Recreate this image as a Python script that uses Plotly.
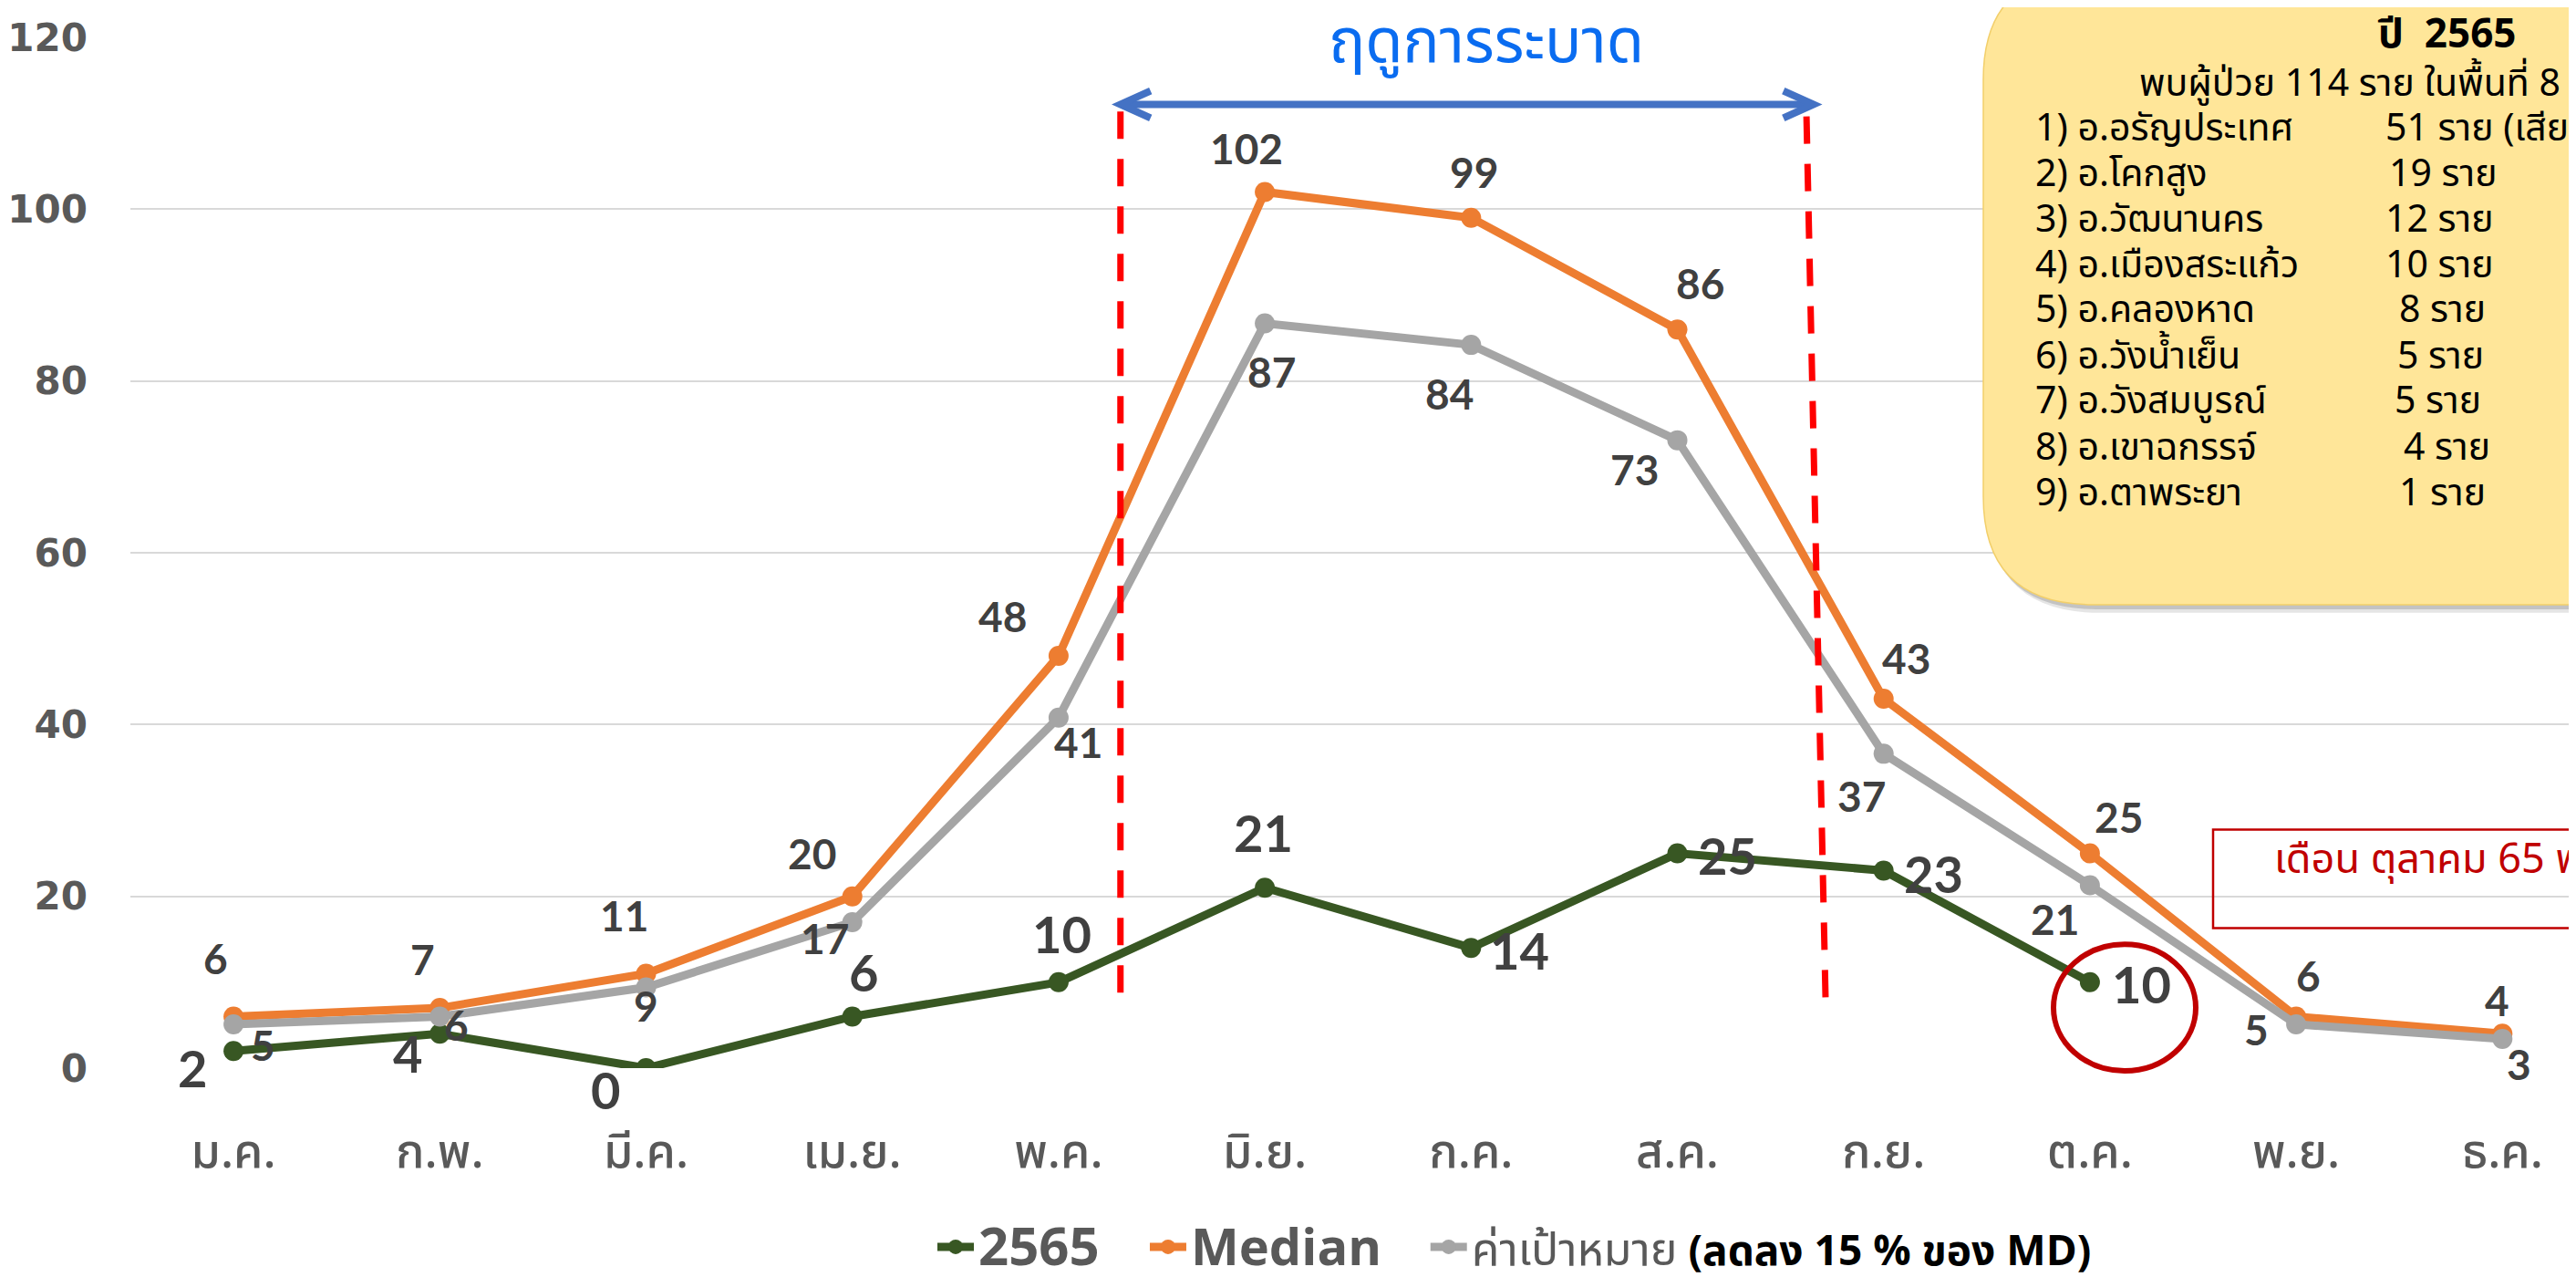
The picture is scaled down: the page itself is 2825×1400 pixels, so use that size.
import plotly.graph_objects as go

# ---------------- data ----------------
months = ["ม.ค.", "ก.พ.", "มี.ค.", "เม.ย.", "พ.ค.", "มิ.ย.", "ก.ค.", "ส.ค.", "ก.ย.", "ต.ค.", "พ.ย.", "ธ.ค."]
cases_2565 = [2, 4, 0, 6, 10, 21, 14, 25, 23, 10]
median = [6, 7, 11, 20, 48, 102, 99, 86, 43, 25, 6, 4]
target = [5.1, 6.0, 9.4, 17.0, 40.8, 86.7, 84.2, 73.1, 36.6, 21.3, 5.1, 3.4]

series_names = ["2565", "Median", "ค่าเป้าหมาย"]
target_note = "(ลดลง 15 % ของ MD)"

season_label = "ฤดูการระบาด"
box_title = "ปี  2565"
box_sub = "พบผู้ป่วย 114 ราย ในพื้นที่ 8 อำเภอ"
districts = ["1) อ.อรัญประเทศ", "2) อ.โคกสูง", "3) อ.วัฒนานคร", "4) อ.เมืองสระแก้ว",
             "5) อ.คลองหาด", "6) อ.วังน้ำเย็น", "7) อ.วังสมบูรณ์", "8) อ.เขาฉกรรจ์", "9) อ.ตาพระยา"]
district_counts = ["51 ราย (เสียชีวิต 1 ราย)", "19 ราย", "12 ราย", "10 ราย", "8 ราย",
                   "5 ราย", "5 ราย", "4 ราย", "1 ราย"]
october_note = "เดือน ตุลาคม 65 พบผู้ป่วย 10 ราย"

# ---------------- style ----------------
C_GREEN = "#385723"
C_ORANGE = "#ED7D31"
C_GREY = "#A5A5A5"
C_LABEL = "#404040"
C_AXIS = "#595959"
THAI = "Noto Sans Thai, Noto Sans Thai UI, Tahoma, Leelawadee UI, Noto Sans, sans-serif"
NUM = "Lato, Calibri, Carlito, sans-serif"

W, H = 2825, 1400
L, R, T, B = 135, 2825, 33, 1174
CAT_W = 226.2
X_RANGE = [-0.5, -0.5 + (R - L) / CAT_W]


def fx(px):
    return (px - L) / (R - L)


def fy(py):
    return (B - py) / (B - T)


# label offsets in px (dx right, dy down) relative to each point
off_2565 = [(-45, 18), (-35, 21), (-45, 23), (12, -49), (4, -53), (-2, -61),
            (53, 2), (55, 2), (55, 3), (57, 2)]
off_median = [(-20, -64), (-19, -54), (-24, -64), (-44, -47), (-61, -44), (-20, -48),
              (3, -50), (25, -51), (25, -45), (32, -40), (13, -45), (-6, -37)]
off_target = [(32, 23), (18, 9), (0, 20), (-30, 18), (22, 27), (7, 53),
              (-24, 53), (-47, 32), (-24, 46), (-38, 37), (-44, 6), (18, 28)]

GAP = "&nbsp;&nbsp;&nbsp;"

fig = go.Figure()

fig.add_trace(go.Scatter(
    x=months[:len(cases_2565)], y=cases_2565,
    name="<span style='font-size:58px'><b>" + series_names[0] + "</b>" + GAP + "</span>",
    mode="lines+markers", line=dict(color=C_GREEN, width=9),
    marker=dict(color=C_GREEN, size=22), hoverinfo="skip"))
fig.add_trace(go.Scatter(
    x=months, y=median,
    name="<span style='font-size:56px'><b>" + series_names[1] + "</b>" + GAP + "</span>",
    mode="lines+markers", line=dict(color=C_ORANGE, width=9),
    marker=dict(color=C_ORANGE, size=22), hoverinfo="skip"))
fig.add_trace(go.Scatter(
    x=months, y=target,
    name="<span style='font-size:50px'>" + series_names[2] + "</span>"
         "<span style='color:#000000;font-size:46px'><b>&nbsp;" + target_note + "</b></span>",
    mode="lines+markers", line=dict(color=C_GREY, width=9),
    marker=dict(color=C_GREY, size=22), hoverinfo="skip"))

annotations = []


def add_labels(values, offsets, size):
    for m, v, (dx, dy) in zip(months, values, offsets):
        annotations.append(dict(
            x=m, y=v, xref="x", yref="y", text=str(round(v)), showarrow=False,
            xanchor="center", yanchor="middle", xshift=dx, yshift=-dy,
            font=dict(family=NUM, size=size, color=C_LABEL, weight="bold")))


add_labels(cases_2565, off_2565, 56)
add_labels(median, off_median, 46)
add_labels(target, off_target, 46)

# season title
annotations.append(dict(x=fx(1622), y=fy(40), xref="paper", yref="paper", text=season_label,
                        showarrow=False, xanchor="center", yanchor="middle",
                        font=dict(family=THAI, size=67, color="#0A6CF0")))

# yellow box texts
BOX_FONT = 41
annotations.append(dict(x=fx(2675), y=fy(30), xref="paper", yref="paper", text="<b>" + box_title + "</b>",
                        showarrow=False, xanchor="center", yanchor="middle",
                        font=dict(family=THAI, size=44, color="#000000")))
annotations.append(dict(x=fx(2336), y=fy(84), xref="paper", yref="paper", text=box_sub,
                        showarrow=False, xanchor="left", yanchor="middle",
                        font=dict(family=THAI, size=BOX_FONT, color="#000000")))
row_y = [134, 184, 235, 285, 335, 386, 436, 487, 538]
count_x = [2606, 2610, 2606, 2606, 2621, 2619, 2616, 2626, 2621]
for name, cnt, yy, cx in zip(districts, district_counts, row_y, count_x):
    annotations.append(dict(x=fx(2222), y=fy(yy), xref="paper", yref="paper", text=name,
                            showarrow=False, xanchor="left", yanchor="middle",
                            font=dict(family=THAI, size=BOX_FONT, color="#000000")))
    annotations.append(dict(x=fx(cx), y=fy(yy), xref="paper", yref="paper", text=cnt,
                            showarrow=False, xanchor="left", yanchor="middle",
                            font=dict(family=THAI, size=BOX_FONT, color="#000000")))

# october note
annotations.append(dict(x=fx(2484), y=fy(944), xref="paper", yref="paper", text=october_note,
                        showarrow=False, xanchor="left", yanchor="middle",
                        font=dict(family=THAI, size=45, color="#C00000")))


def rrect_path(x0, y0, x1, y1, r):
    pts = [
        ("M", [(x0 + r, y0)]), ("L", [(x1 - r, y0)]), ("Q", [(x1, y0), (x1, y0 + r)]),
        ("L", [(x1, y1 - r)]), ("Q", [(x1, y1), (x1 - r, y1)]), ("L", [(x0 + r, y1)]),
        ("Q", [(x0, y1), (x0, y1 - r)]), ("L", [(x0, y0 + r)]), ("Q", [(x0, y0), (x0 + r, y0)]),
    ]
    s = ""
    for cmd, ps in pts:
        s += cmd + " " + " ".join(f"{fx(a):.5f},{fy(b):.5f}" for a, b in ps) + " "
    return s + "Z"


shapes = []
# shadow of yellow box
shapes.append(dict(type="path", xref="paper", yref="paper", path=rrect_path(2171, -40, 2960, 670, 124),
                   fillcolor="rgba(0,0,0,0.10)", line=dict(width=0), layer="above"))
shapes.append(dict(type="path", xref="paper", yref="paper", path=rrect_path(2169, -40, 2960, 666, 122),
                   fillcolor="rgba(0,0,0,0.15)", line=dict(width=0), layer="above"))
shapes.append(dict(type="path", xref="paper", yref="paper", path=rrect_path(2167, -40, 2960, 661, 120),
                   fillcolor="#FFE699", line=dict(color="#F2CF6B", width=1.5), layer="above"))
# red note box
shapes.append(dict(type="rect", xref="paper", yref="paper", x0=fx(2419), x1=fx(2960),
                   y0=fy(910), y1=fy(1019), line=dict(color="#C00000", width=2.5),
                   fillcolor="rgba(0,0,0,0)", layer="above"))
# red dashed season boundaries
shapes.append(dict(type="line", xref="x", yref="y", x0=4.30, x1=4.30, y0=8.8, y1=111.8,
                   line=dict(color="#FF0000", width=7, dash="30px,22px"), layer="above"))
shapes.append(dict(type="line", xref="x", yref="y", x0=7.626, x1=7.719, y0=110.8, y1=7.5,
                   line=dict(color="#FF0000", width=7, dash="30px,22px"), layer="above"))
# blue double arrow
AY = 112.2
AX0, AX1 = 4.30, 7.66
DXC, DYC = 33 / CAT_W, 15 / 9.508
shapes.append(dict(type="line", xref="x", yref="y", x0=AX0 + 0.01, x1=AX1 - 0.01, y0=AY, y1=AY,
                   line=dict(color="#4472C4", width=8), layer="above"))
shapes.append(dict(type="path", xref="x", yref="y",
                   path=f"M {AX0 + DXC},{AY + DYC} L {AX0},{AY} L {AX0 + DXC},{AY - DYC}",
                   line=dict(color="#4472C4", width=8), layer="above"))
shapes.append(dict(type="path", xref="x", yref="y",
                   path=f"M {AX1 - DXC},{AY + DYC} L {AX1},{AY} L {AX1 - DXC},{AY - DYC}",
                   line=dict(color="#4472C4", width=8), layer="above"))
# red circle around October (paper refs so it is not clipped at the zero line)
shapes.append(dict(type="circle", xref="paper", yref="paper", x0=fx(2244), x1=fx(2400),
                   y0=fy(1177), y1=fy(1037),
                   line=dict(color="#C00000", width=6), layer="above"))

fig.update_layout(
    width=W, height=H,
    margin=dict(l=L, r=W - R, t=T, b=H - B),
    paper_bgcolor="white", plot_bgcolor="white",
    showlegend=True,
    legend=dict(orientation="h", x=fx(1015), y=fy(1372), xanchor="left", yanchor="middle",
                font=dict(family=THAI, size=52, color=C_AXIS), itemwidth=40,
                bgcolor="rgba(0,0,0,0)", tracegroupgap=0),
    xaxis=dict(type="category", categoryarray=months, range=X_RANGE, showgrid=False,
               zeroline=False, showline=False, ticks="",
               tickfont=dict(family=THAI, size=52, color=C_AXIS, weight=500), ticklabelstandoff=56),
    yaxis=dict(range=[0, 120], dtick=20, showgrid=True, gridcolor="#D9D9D9", gridwidth=2,
               zeroline=False, showline=False, ticks="",
               tickfont=dict(family="DejaVu Sans", size=42, color=C_AXIS, weight="bold"),
               ticklabelstandoff=46),
    shapes=shapes, annotations=annotations,
)

fig.write_html("out.html")
